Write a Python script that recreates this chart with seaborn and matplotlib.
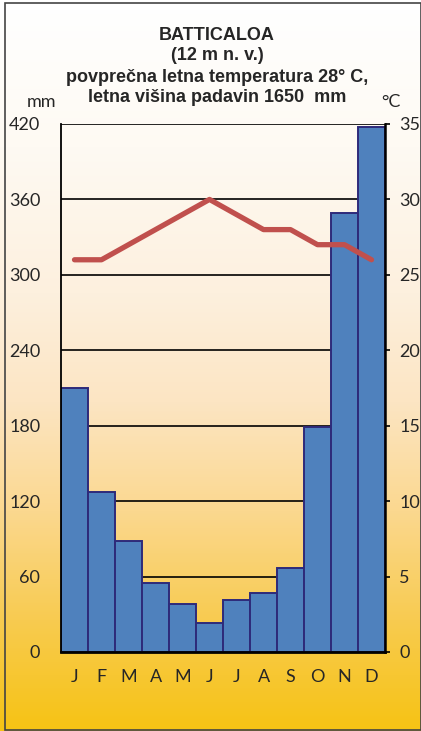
import numpy as np
import pandas as pd
import matplotlib
matplotlib.use("Agg")
import matplotlib.pyplot as plt
from matplotlib.colors import LinearSegmentedColormap
import seaborn as sns

months = ["J", "F", "M", "A", "M", "J", "J", "A", "S", "O", "N", "D"]
precip_mm = [210, 127, 88, 55, 38, 23, 41, 47, 67, 179, 349, 418]
temp_c = [26, 26, 27, 28, 29, 30, 29, 28, 28, 27, 27, 26]
mm_ticks = [0, 60, 120, 180, 240, 300, 360, 420]
c_ticks = [0, 5, 10, 15, 20, 25, 30, 35]
title_lines = ["BATTICALOA", "(12 m n. v.)",
               "povprečna letna temperatura 28° C,",
               "letna višina padavin 1650  mm"]

sns.set_style("white")
plt.rcParams["font.family"] = ["Lato", "DejaVu Sans"]

W, H = 421, 731
fig = plt.figure(figsize=(W / 100, H / 100), dpi=100)

# background gradient
bg = fig.add_axes([0, 0, 1, 1])
cmap = LinearSegmentedColormap.from_list(
    "bg", [(0.0, "#ffffff"), (0.2, "#fefaf3"), (0.4, "#fdf0de"),
           (0.55, "#fce5c3"), (0.7, "#fbd88f"), (0.85, "#f8cb50"),
           (1.0, "#f6c314")])
grad = np.linspace(0, 1, 256).reshape(-1, 1)
bg.imshow(grad, aspect="auto", cmap=cmap, extent=[0, 1, 0, 1], origin="upper")
bg.set_xlim(0, 1)
bg.set_ylim(0, 1)
bg.axis("off")
bg.add_patch(plt.Rectangle((4.5 / W, 1.5 / H), 1 - 4 / W, 1 - 4 / H, fill=False,
                           edgecolor="#444444", lw=1.2))

L, R, T, B = 61, 385, 124, 652
ax = fig.add_axes([L / W, (H - B) / H, (R - L) / W, (B - T) / H])
ax.set_facecolor("none")

df = pd.DataFrame({"idx": np.arange(len(months)), "mm": precip_mm, "t": temp_c})
sns.barplot(data=df, x="idx", y="mm", ax=ax, width=1.0, color="#4f81bd",
            saturation=1, edgecolor="#2e2a7a", linewidth=1.4, zorder=2)
ax.set_xlim(-0.5, len(months) - 0.5)
ax.set_ylim(0, 420)
ax.set_yticks(mm_ticks)
ax.set_yticklabels([str(v) for v in mm_ticks], fontsize=13)
ax.set_xticks(np.arange(len(months)))
ax.set_xticklabels(months, fontsize=13)
ax.set_xlabel("")
ax.set_ylabel("")
ax.tick_params(axis="y", length=0, pad=15)
ax.tick_params(axis="x", length=0, pad=12)
ax.set_axisbelow(True)
ax.yaxis.grid(True, color="black", lw=1.2)
ax.xaxis.grid(False)
for s in ["top", "right"]:
    ax.spines[s].set_visible(False)
ax.spines["left"].set_color("black")
ax.spines["left"].set_linewidth(1.3)
ax.spines["left"].set_linestyle((0, (2.5, 1)))
ax.spines["bottom"].set_color("black")
ax.spines["bottom"].set_linewidth(2.0)

ax2 = ax.twinx()
sns.lineplot(data=df, x="idx", y="t", ax=ax2, color="#c0504d", lw=3.8,
             solid_capstyle="round", solid_joinstyle="round")
ax2.set_ylim(0, 35)
ax2.set_yticks(c_ticks)
ax2.set_yticklabels([str(v) for v in c_ticks], fontsize=13)
ax2.set_ylabel("")
ax2.set_xlabel("")
ax2.tick_params(axis="y", length=3.6, width=1.2, color="black", pad=6.5,
                direction="out")
for s in ["top", "left", "bottom"]:
    ax2.spines[s].set_visible(False)
ax2.spines["right"].set_color("black")
ax2.spines["right"].set_linewidth(1.8)
ax2.set_xlim(-0.5, len(months) - 0.5)

# titles
ys = [35, 55, 77, 98]
for txt, y in zip(title_lines, ys):
    fig.text(217 / W, 1 - y / H, txt, ha="center", va="center", fontsize=13,
             fontweight="bold", family=["Liberation Sans", "DejaVu Sans"])
fig.text(42 / W, 1 - 102 / H, "mm", ha="center", va="center", fontsize=13)
fig.text(391 / W, 1 - 102 / H, "°C", ha="center", va="center", fontsize=13)

fig.savefig("out.png", dpi=100)
